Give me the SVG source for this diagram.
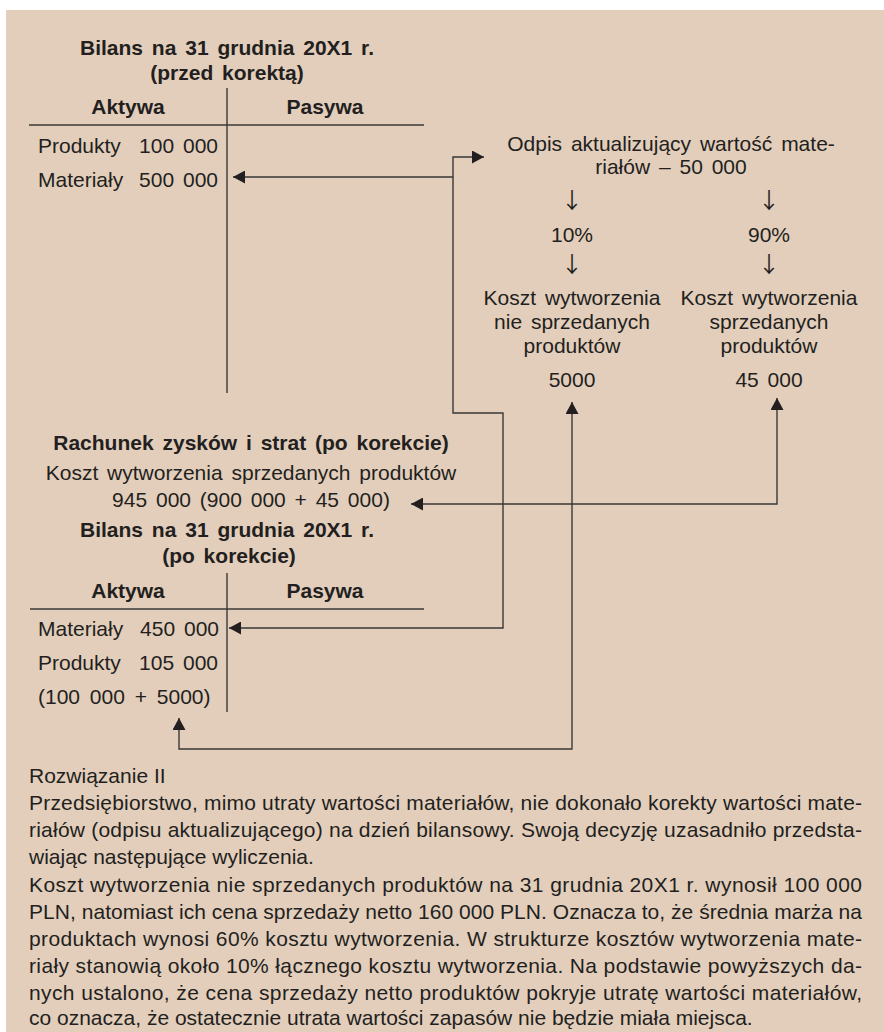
<svg xmlns="http://www.w3.org/2000/svg" width="884" height="1032" viewBox="0 0 884 1032">
<style>
text { font-family: "Liberation Sans", Arial, Helvetica, sans-serif; font-size: 21px; fill: #231f20; word-spacing: 3px; }
.b { font-weight: bold; }
.m { text-anchor: middle; }
.e { text-anchor: end; }
.ar { font-family: "Noto Sans CJK SC", "DejaVu Sans", sans-serif; font-size: 22px; }
.ln { stroke: #3a3838; stroke-width: 1.4; fill: none; }
.par text { word-spacing: 0; }
</style>
<defs>
<marker id="ah" viewBox="0 0 12 13" refX="12" refY="6.5" markerWidth="12" markerHeight="13" markerUnits="userSpaceOnUse" orient="auto-start-reverse">
<path d="M0,0 L12,6.5 L0,13 z" fill="#231f20"/>
</marker>
</defs>
<rect x="6" y="10" width="878" height="1022" fill="#e2cebb"/>

<g id="bilans-przed">
<text class="b m" x="227" y="55">Bilans na 31 grudnia 20X1 r.</text>
<text class="b m" x="227" y="80">(przed korektą)</text>
<line class="ln" x1="227" y1="88" x2="227" y2="393"/>
<line class="ln" x1="29" y1="125" x2="424" y2="125"/>
<text class="b m" x="128" y="114">Aktywa</text>
<text class="b m" x="325" y="114">Pasywa</text>
<text x="38" y="153">Produkty</text>
<text class="e" x="218" y="153">100 000</text>
<text x="38" y="187">Materiały</text>
<text class="e" x="218" y="187">500 000</text>
</g>

<g id="odpis">
<text class="m" x="671" y="151">Odpis aktualizujący wartość mate-</text>
<text class="m" x="671" y="174">riałów – 50 000</text>
</g>

<g id="split-10">
<text class="m ar" x="572" y="208">↓</text>
<text class="m" x="572" y="242">10%</text>
<text class="m ar" x="572" y="272">↓</text>
</g>

<g id="split-90">
<text class="m ar" x="769" y="208">↓</text>
<text class="m" x="769" y="242">90%</text>
<text class="m ar" x="769" y="272">↓</text>
</g>

<g id="koszt-niesprzedanych">
<text class="m" x="572" y="305">Koszt wytworzenia</text>
<text class="m" x="572" y="329">nie sprzedanych</text>
<text class="m" x="572" y="353">produktów</text>
<text class="m" x="572" y="387">5000</text>
</g>

<g id="koszt-sprzedanych">
<text class="m" x="769" y="305">Koszt wytworzenia</text>
<text class="m" x="769" y="329">sprzedanych</text>
<text class="m" x="769" y="353">produktów</text>
<text class="m" x="769" y="387">45 000</text>
</g>

<g id="rachunek">
<text class="b m" x="251" y="450">Rachunek zysków i strat (po korekcie)</text>
<text class="m" x="251" y="480">Koszt wytworzenia sprzedanych produktów</text>
<text class="m" x="251" y="507">945 000 (900 000 + 45 000)</text>
</g>

<g id="bilans-po">
<text class="b m" x="227" y="537">Bilans na 31 grudnia 20X1 r.</text>
<text class="b m" x="229" y="563">(po korekcie)</text>
<line class="ln" x1="227" y1="573" x2="227" y2="712"/>
<line class="ln" x1="30" y1="609" x2="424" y2="609"/>
<text class="b m" x="128" y="598">Aktywa</text>
<text class="b m" x="325" y="598">Pasywa</text>
<text x="38" y="636">Materiały</text>
<text class="e" x="219" y="636">450 000</text>
<text x="38" y="670">Produkty</text>
<text class="e" x="218" y="670">105 000</text>
<text x="38" y="704" style="word-spacing:4px">(100 000 + 5000)</text>
</g>

<g id="connectors">
<path class="ln" d="M233 177 H453 V157 H484" marker-start="url(#ah)" marker-end="url(#ah)"/>
<path class="ln" d="M453 177 V413 H503 V628 H229" marker-end="url(#ah)"/>
<path class="ln" d="M572 402 V749 H179 V718" marker-start="url(#ah)" marker-end="url(#ah)"/>
<path class="ln" d="M777 398 V504 H411" marker-start="url(#ah)" marker-end="url(#ah)"/>
</g>

<g id="rozwiazanie" class="par">
<text x="29" y="783">Rozwiązanie II</text>
<text x="29" y="810" textLength="833" lengthAdjust="spacing">Przedsiębiorstwo, mimo utraty wartości materiałów, nie dokonało korekty wartości mate-</text>
<text x="29" y="837" textLength="833" lengthAdjust="spacing">riałów (odpisu aktualizującego) na dzień bilansowy. Swoją decyzję uzasadniło przedsta-</text>
<text x="29" y="864">wiając następujące wyliczenia.</text>
<text x="29" y="892" textLength="833" lengthAdjust="spacing">Koszt wytworzenia nie sprzedanych produktów na 31 grudnia 20X1 r. wynosił 100 000</text>
<text x="29" y="919" textLength="833" lengthAdjust="spacing">PLN, natomiast ich cena sprzedaży netto 160 000 PLN. Oznacza to, że średnia marża na</text>
<text x="29" y="946" textLength="833" lengthAdjust="spacing">produktach wynosi 60% kosztu wytworzenia. W strukturze kosztów wytworzenia mate-</text>
<text x="29" y="973" textLength="833" lengthAdjust="spacing">riały stanowią około 10% łącznego kosztu wytworzenia. Na podstawie powyższych da-</text>
<text x="29" y="1000" textLength="833" lengthAdjust="spacing">nych ustalono, że cena sprzedaży netto produktów pokryje utratę wartości materiałów,</text>
<text x="29" y="1025">co oznacza, że ostatecznie utrata wartości zapasów nie będzie miała miejsca.</text>
</g>
</svg>
